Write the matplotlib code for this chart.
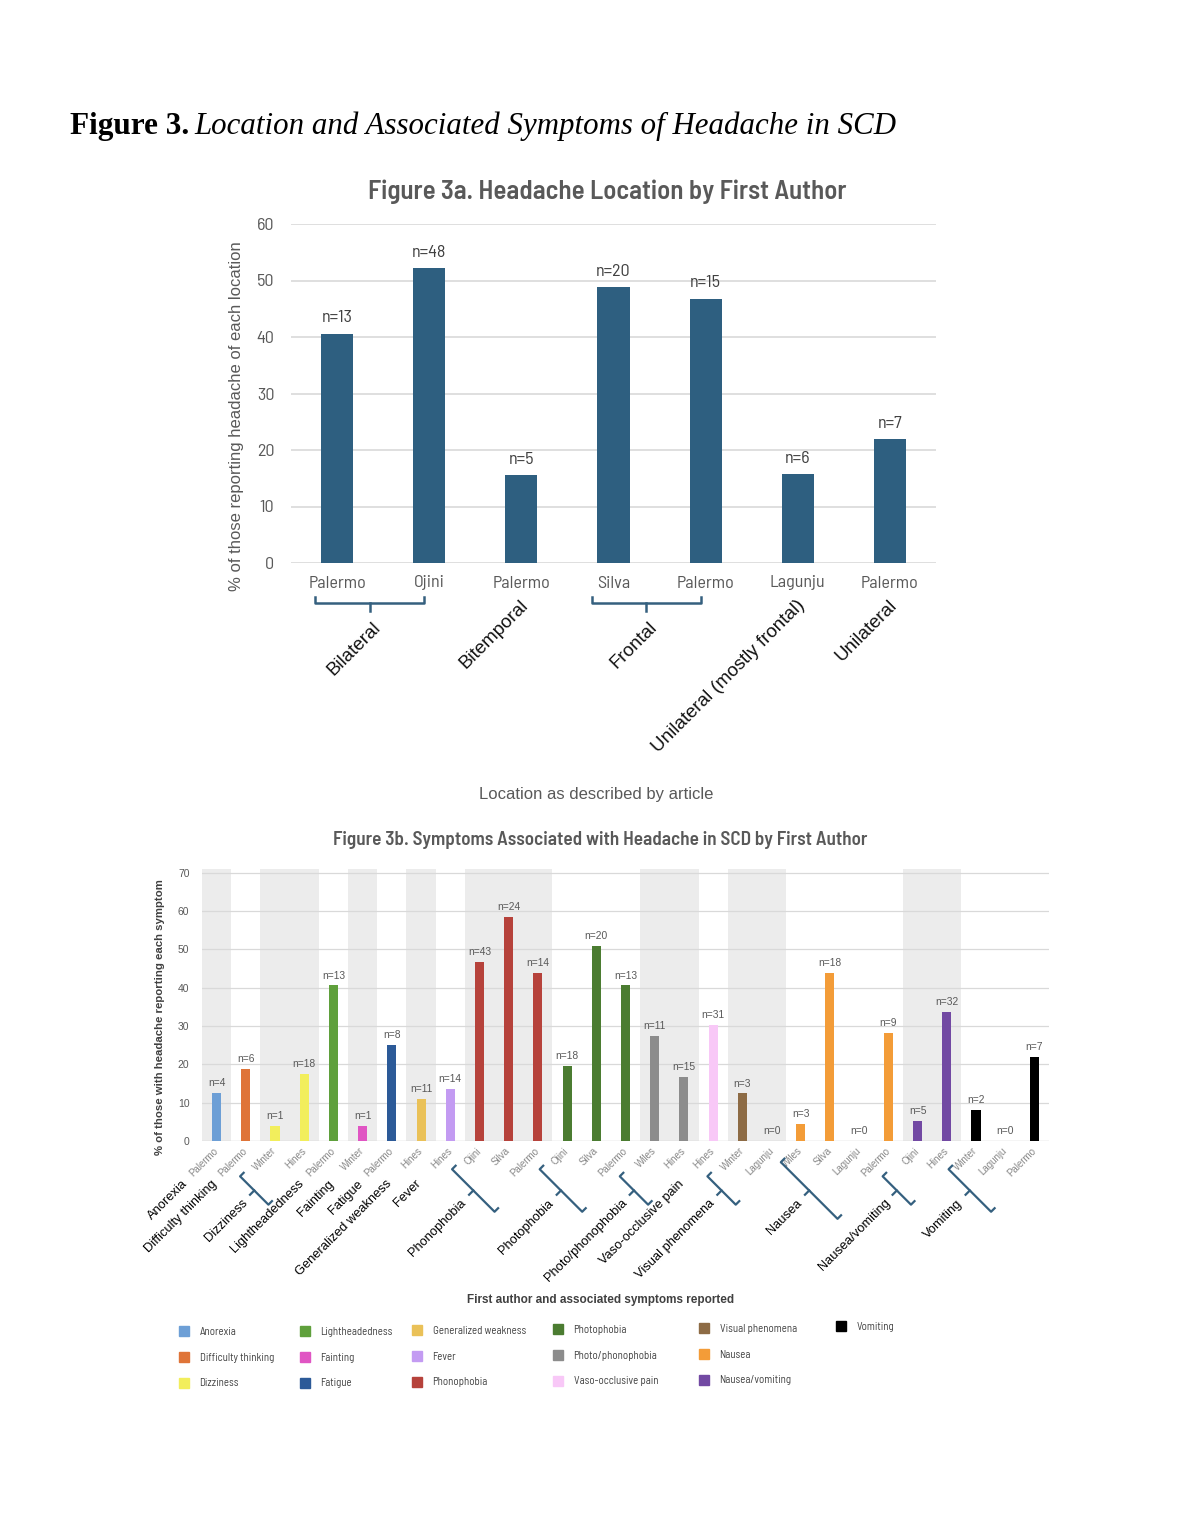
import numpy as np
import matplotlib
matplotlib.use('Agg')
import matplotlib.pyplot as plt
from matplotlib import font_manager
from matplotlib.lines import Line2D
from matplotlib.transforms import IdentityTransform

# ---------------- Figure 3a data ----------------
loc_authors = ['Palermo', 'Ojini', 'Palermo', 'Silva', 'Palermo', 'Lagunju', 'Palermo']
loc_values = [40.6, 52.2, 15.5, 48.8, 46.8, 15.7, 21.9]
loc_n = [13, 48, 5, 20, 15, 6, 7]
loc_groups = ['Bilateral', 'Bitemporal', 'Frontal', 'Unilateral (mostly frontal)', 'Unilateral']
loc_group_sizes = [2, 1, 2, 1, 1]

# ---------------- Figure 3b data ----------------
sym_groups = ['Anorexia', 'Difficulty thinking', 'Dizziness', 'Lightheadedness', 'Fainting',
              'Fatigue', 'Generalized weakness', 'Fever', 'Phonophobia', 'Photophobia',
              'Photo/phonophobia', 'Vaso-occlusive pain', 'Visual phenomena', 'Nausea',
              'Nausea/vomiting', 'Vomiting']
sym_group_sizes = [1, 1, 2, 1, 1, 1, 1, 1, 3, 3, 2, 1, 2, 4, 2, 3]
sym_colors = ['#6d9fd6', '#df7438', '#f2ee5c', '#5fa03c', '#e055c3', '#2c5a98', '#eac158',
              '#c39bf2', '#b6423b', '#4b7c31', '#8c8c8c', '#f8c8f7', '#8d6b45', '#f39c38',
              '#7249a3', '#000000']
sym_authors = ['Palermo', 'Palermo', 'Winter', 'Hines', 'Palermo', 'Winter', 'Palermo', 'Hines',
               'Hines', 'Ojini', 'Silva', 'Palermo', 'Ojini', 'Silva', 'Palermo', 'Wiles', 'Hines',
               'Hines', 'Winter', 'Lagunju', 'Wiles', 'Silva', 'Lagunju', 'Palermo', 'Ojini',
               'Hines', 'Winter', 'Lagunju', 'Palermo']
sym_values = [12.5, 18.8, 4.0, 17.4, 40.6, 4.0, 25.0, 11.0, 13.5, 46.7, 58.5, 43.8, 19.6, 51.0,
              40.6, 27.4, 16.7, 30.3, 12.4, 0, 4.4, 43.8, 0, 28.1, 5.2, 33.8, 8.0, 0, 21.9]
sym_n = [4, 6, 1, 18, 13, 1, 8, 11, 14, 43, 24, 14, 18, 20, 13, 11, 15, 31, 3, 0, 3, 18, 0, 9,
         5, 32, 2, 0, 7]

installed = {f.name for f in font_manager.fontManager.ttflist}


def pick(*names):
    for nm in names:
        if nm in installed:
            return nm
    return 'DejaVu Sans'


COND = pick('Barlow Semi Condensed', 'Roboto Condensed', 'Archivo Narrow', 'Liberation Sans Narrow')
SANS = pick('Liberation Sans', 'Noto Sans')
SERIF = pick('Liberation Serif', 'DejaVu Serif')

W, H = 1182, 1529
fig = plt.figure(figsize=(W / 100, H / 100), dpi=100)
PX = IdentityTransform()


def fx(px):
    return px / W


def fy(py):
    return 1 - py / H


# ---------------- page title ----------------
t1 = fig.text(fx(70), fy(134), 'Figure 3.', family=SERIF, weight='bold', size=22.5, va='baseline')
fig.canvas.draw()
bb = t1.get_window_extent()
fig.text((bb.x1 + 5) / W, fy(134), 'Location and Associated Symptoms of Headache in SCD',
         family=SERIF, style='italic', size=22.2, va='baseline')

# ---------------- Figure 3a ----------------
ax1 = fig.add_axes([fx(291), fy(563), (936 - 291) / W, (563 - 224) / H])
x1 = np.arange(len(loc_values))
ax1.bar(x1, loc_values, width=0.35, color='#2e5f80', zorder=3)
ax1.set_xlim(-0.5, len(loc_values) - 0.5)
ax1.set_ylim(0, 60)
ax1.set_yticks(range(0, 61, 10))
ax1.set_xticks(x1, loc_authors)
ax1.grid(axis='y', color='#d9d9d9', lw=1.2, zorder=0)
for s in ax1.spines.values():
    s.set_visible(False)
ax1.tick_params(length=0, labelcolor='#595959')
ax1.tick_params(axis='y', pad=12, labelsize=13)
ax1.tick_params(axis='x', pad=9, labelsize=13)
for lab in ax1.get_xticklabels() + ax1.get_yticklabels():
    lab.set_family(COND)
for xi, v, n in zip(x1, loc_values, loc_n):
    ax1.annotate(f'n={n}', (xi, v), xytext=(0, 6), textcoords='offset points', ha='center',
                 va='bottom', fontsize=13, color='#404040', family=COND)

fig.text(fx(607), fy(192), 'Figure 3a. Headache Location by First Author', ha='center',
         va='center', fontsize=19.3, weight='semibold', color='#595959', family=COND)
fig.text(fx(236), fy(416), '% of those reporting headache of each location', rotation=90,
         ha='center', va='center', fontsize=12, color='#595959', family=SANS)
fig.text(fx(596), fy(795), 'Location as described by article', ha='center', va='center',
         fontsize=12, color='#595959', family=SANS)

BR = '#35607f'
Y0 = ax1.transData.transform((0, 0))[1]
start = 0
for name, size in zip(loc_groups, loc_group_sizes):
    xf = ax1.transData.transform((start, 0))[0]
    xl = ax1.transData.transform((start + size - 1, 0))[0]
    if size > 1:
        left, right = xf - 22, xl - 5
        yb = Y0 - 40
        cx = (left + right) / 2
        fig.add_artist(Line2D([left, left, right, right], [yb + 6, yb, yb, yb + 6],
                              transform=PX, color=BR, lw=1.8))
        fig.add_artist(Line2D([cx, cx], [yb, yb - 8], transform=PX, color=BR, lw=1.8))
        ax_, ay_ = cx + 8, Y0 - 62
    else:
        ax_, ay_ = xf + 4, Y0 - 40
    fig.text(ax_, ay_, name, transform=PX, rotation=45, ha='right', va='center',
             rotation_mode='anchor', fontsize=13.5, color='#111111', family=SANS)
    start += size

# ---------------- Figure 3b ----------------
ax2 = fig.add_axes([fx(202), fy(1141), (1049 - 202) / W, (1141 - 869) / H])
x2 = np.arange(len(sym_values))
bar_colors = []
start = 0
for k, (size, col) in enumerate(zip(sym_group_sizes, sym_colors)):
    bar_colors += [col] * size
    if k % 2 == 0:
        ax2.axvspan(start - 0.5, start + size - 0.5, color='#ececec', lw=0, zorder=1)
    start += size
ax2.bar(x2, sym_values, width=0.31, color=bar_colors, zorder=3)
ax2.set_xlim(-0.5, len(sym_values) - 0.5)
ax2.set_ylim(0, 71)
ax2.set_yticks(range(0, 71, 10))
ax2.grid(axis='y', color='#d9d9d9', lw=0.9, zorder=0)
ax2.axhline(0, color='#d9d9d9', lw=0.9, zorder=2)
for s in ax2.spines.values():
    s.set_visible(False)
ax2.tick_params(length=0)
ax2.tick_params(axis='y', pad=9, labelsize=7.5, labelcolor='#595959')
ax2.set_xticks(x2, sym_authors, rotation=45, ha='right', va='center', rotation_mode='anchor')
ax2.tick_params(axis='x', pad=6, labelsize=7, labelcolor='#888888')
for lab in ax2.get_yticklabels():
    lab.set_family(SANS)
for lab in ax2.get_xticklabels():
    lab.set_family(SANS)
for xi, v, n in zip(x2, sym_values, sym_n):
    ax2.annotate(f'n={n}', (xi, v), xytext=(0, 3.5), textcoords='offset points', ha='center',
                 va='bottom', fontsize=7.4, color='#595959', family=SANS)

fig.text(fx(600), fy(840), 'Figure 3b. Symptoms Associated with Headache in SCD by First Author',
         ha='center', va='center', fontsize=13.8, weight='semibold', color='#595959', family=COND)
fig.text(fx(160), fy(1017), '% of those with headache reporting each symptom', rotation=90,
         ha='center', va='center', fontsize=8.2, weight='bold', color='#404040', family=SANS)
fig.text(fx(601), fy(1300), 'First author and associated symptoms reported', ha='center',
         va='center', fontsize=8.5, weight='bold', color='#404040', family=SANS)

u = np.array([1.0, 1.0]) / np.sqrt(2)
p = np.array([1.0, -1.0]) / np.sqrt(2)
Y0b = ax2.transData.transform((0, 0))[1]
slot = ax2.transData.transform((1, 0))[0] - ax2.transData.transform((0, 0))[0]
start = 0
for name, size in zip(sym_groups, sym_group_sizes):
    xm = ax2.transData.transform((start + (size - 1) / 2, 0))[0]
    base = np.array([xm, Y0b])
    if size > 1:
        c = base - 60 * u + 10 * p
        half = size * slot / np.sqrt(2) * 0.97 / 2
        e1, e2 = c - half * p, c + half * p
        pts = np.array([e1 + 5 * u, e1, e2, e2 + 5 * u])
        fig.add_artist(Line2D(pts[:, 0], pts[:, 1], transform=PX, color=BR, lw=1.6))
        stub = np.array([c, c - 6 * u])
        fig.add_artist(Line2D(stub[:, 0], stub[:, 1], transform=PX, color=BR, lw=1.6))
        anchor = c - 14 * u + 1.5 * p
    else:
        anchor = base - 51 * u + 7 * p
    fig.text(anchor[0], anchor[1], name, transform=PX, rotation=45, ha='right', va='center',
             rotation_mode='anchor', fontsize=9.3, color='black', family=SANS)
    start += size

# legend: six columns, column-major like the reference
col_x = [180, 301, 413, 554, 700, 837]
col_y = [1327, 1327, 1326, 1325, 1324, 1322]
idx = 0
for cx_, cy_ in zip(col_x, col_y):
    handles, labels = [], []
    for _ in range(3):
        if idx < len(sym_groups):
            handles.append(Line2D([], [], marker='s', ls='none', markersize=6.5,
                                  color=sym_colors[idx]))
            labels.append(sym_groups[idx])
            idx += 1
    fig.legend(handles, labels, loc='upper left', bbox_to_anchor=(fx(cx_ - 1), fy(cy_)),
               frameon=False, borderpad=0, borderaxespad=0, handlelength=1.0,
               handletextpad=0.9, labelspacing=1.45,
               prop={'family': COND, 'size': 7.8}, labelcolor='#404040')

fig.savefig('out.png', dpi=100)
